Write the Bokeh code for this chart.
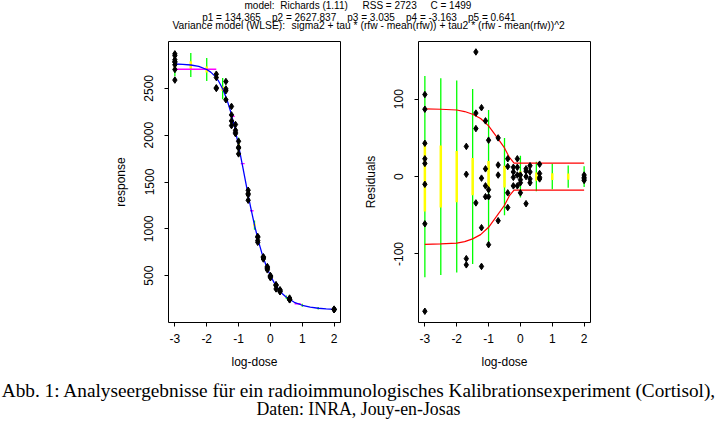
from bokeh.plotting import figure
from bokeh.models import Range1d, FixedTicker
from bokeh.layouts import column, row
from bokeh.core.properties import value
from bokeh.embed import file_html
from bokeh.resources import INLINE

# ---------------- data ----------------
log_dose = [-3.0, -1.699, -1.398, -1.222, -1.097, -1.0, -0.699, -0.398,
            -0.222, -0.097, 0.0, 0.176, 0.301, 0.602, 2.0]
response = [
    [2868, 2849, 2805, 2785, 2779, 2752, 2701, 2588],
    [2651, 2615, 2506, 2498],
    [2573, 2494, 2474, 2378],
    [2307, 2216, 2152, 2102],
    [2114, 2052, 2030, 2016],
    [1935, 1871, 1862, 1800],
    [1412, 1377, 1364, 1305],
    [919, 909, 875, 856],
    [702, 696, 689, 678],
    [597, 586, 576, 562],
    [501, 495, 478, 491],
    [400, 393, 358, 403],
    [350, 342, 333, 328],
    [261, 249, 244, 242],
    [143, 140, 138, 136],
]
residual = [
    [106, 87, 43, 23, 17, -10, -61, -174],
    [39, 3, -106, -114],
    [161, 82, 62, -34],
    [89, -2, -66, -116],
    [72, 10, -12, -26],
    [47, -17, -26, -88],
    [50, 15, 2, -57],
    [23, 13, -21, -40],
    [12, 6, -1, -12],
    [23, 12, 2, -12],
    [2, -4, -21, -8],
    [7, 0, -35, 10],
    [14, 6, -3, -8],
    [16, 4, -1, -3],
    [2, -1, -3, -5],
]
# fitted curve (blue)
curve_x = [-3, -2.75, -2.5, -2.25, -2, -1.875, -1.75, -1.625, -1.5, -1.375, -1.25,
           -1.125, -1, -0.875, -0.75, -0.625, -0.5, -0.375, -0.25, -0.125, 0,
           0.125, 0.25, 0.375, 0.5, 0.75, 1, 1.25, 1.5, 1.75, 2]
curve_y = [2760, 2756, 2749, 2734, 2701, 2673, 2633, 2576, 2496, 2390, 2253,
           2085, 1888, 1672, 1451, 1236, 1039, 866, 719, 597, 499,
           420, 358, 308, 270, 216, 184, 164, 152, 145, 141]
# interval bars on a grid of log-doses
grid_x = [-3, -2.5, -2, -1.5, -1, -0.5, 0, 0.5, 1, 1.5, 2]
grid_fit = [2760, 2749, 2701, 2496, 1888, 1039, 499, 270, 184, 152, 141]
green_half = [130, 127, 124, 113, 86, 50, 27, 19, 16.5, 14.4, 13.3]
yellow_half = [45, 40, 33, 24, 20, 14, 7, 5.3, 4.3, 4, 3.5]
# magenta marks (left panel)
mag_y = [2704, 2200, 1696, 1193, 200]
mag_x0 = [-3.0, -1.27, -0.93, -0.64, 0.76]
mag_x1 = [-1.70, -1.12, -0.81, -0.53, 0.95]
# red band (right panel)
band_x = [-3, -2.5, -2, -1.75, -1.5, -1.25, -1, -0.75, -0.5, -0.35, -0.2, 2]
band_s = [87.5, 87, 86, 84, 80.5, 75, 65.5, 51.5, 37, 25, 17.5, 17.5]

x_ticks = [-3, -2, -1, 0, 1, 2]
y_ticks_left = [500, 1000, 1500, 2000, 2500]
y_ticks_right = [-100, 0, 100]

title_line1 = ["model:", "Richards (1.11)", "RSS = 2723", "C = 1499"]
title_line2 = ["p1 = 134.365", "p2 = 2627.837", "p3 = 3.035", "p4 = -3.163", "p5 = 0.641"]
title_line3 = ["Variance model (WLSE):",
               "sigma2 + tau * (rfw - mean(rfw)) + tau2 * (rfw - mean(rfw))^2"]
caption1 = "Abb. 1: Analyseergebnisse für ein radioimmunologisches Kalibrationsexperiment (Cortisol),"
caption2 = "Daten: INRA, Jouy-en-Josas"

SANS = "Liberation Sans"
SERIF = "Liberation Serif"

xs = [d for d, rr in zip(log_dose, response) for _ in rr]
ys = [v for rr in response for v in rr]
rs = [v for rr in residual for v in rr]


def text_fig(h, y_top):
    return figure(width=717, height=h, x_range=Range1d(0, 717), y_range=Range1d(y_top + h, y_top),
                  toolbar_location=None, output_backend="svg", x_axis_type=None, y_axis_type=None,
                  min_border=0, outline_line_color=None)


# ---------------- title ----------------
tf = text_fig(40, 0)
tkw = dict(text_font=value(SANS), text_align="left", text_baseline="middle", text_color="black")
tf.text(x=[244, 279.7, 362, 430], y=[5] * 4, text=title_line1,
        text_font_size=value("10px"), **tkw)
tf.text(x=[201.7, 271.5, 346.8, 405.5, 467.5], y=[16.5] * 5, text=title_line2,
        text_font_size=value("10px"), **tkw)
tf.text(x=[172, 291], y=[24.5] * 2, text=title_line3,
        text_font_size=value("10.3px"), **tkw)


def style(p, yticks, ylabel):
    p.outline_line_color = "black"
    p.outline_line_width = 1
    p.xgrid.visible = False
    p.ygrid.visible = False
    p.xaxis.ticker = FixedTicker(ticks=x_ticks)
    p.yaxis.ticker = FixedTicker(ticks=yticks)
    p.xaxis.major_label_overrides = {t: str(t) for t in x_ticks}
    p.yaxis.major_label_overrides = {t: str(t) for t in yticks}
    p.xaxis.axis_label = "log-dose"
    p.yaxis.axis_label = ylabel
    for ax in (p.xaxis, p.yaxis):
        ax.axis_line_color = None
        ax.major_tick_out = 4
        ax.major_tick_in = 0
        ax.minor_tick_out = 0
        ax.minor_tick_in = 0
        ax.major_tick_line_color = "black"
        ax.major_label_text_font = SANS
        ax.major_label_text_font_size = "12px"
        ax.major_label_text_color = "black"
        ax.axis_label_text_font = SANS
        ax.axis_label_text_font_size = "12px"
        ax.axis_label_text_font_style = "normal"
        ax.axis_label_text_color = "black"
    p.xaxis.major_label_standoff = 7
    p.xaxis.axis_label_standoff = 9
    p.yaxis.major_label_orientation = "vertical"
    p.yaxis.major_label_standoff = 11
    p.yaxis.axis_label_standoff = 14


# ---------------- left panel ----------------
pl = figure(width=360, height=332, x_range=Range1d(-3.2, 2.2), y_range=Range1d(0, 3000),
            toolbar_location=None, output_backend="svg",
            min_border_left=168, min_border_right=20, min_border_top=1, min_border_bottom=50)
style(pl, y_ticks_left, "response")
pl.segment(x0=grid_x, x1=grid_x, y0=[f - g for f, g in zip(grid_fit, green_half)],
           y1=[f + g for f, g in zip(grid_fit, green_half)], line_color="#00FF00", line_width=1.3)
pl.segment(x0=grid_x, x1=grid_x, y0=[f - g for f, g in zip(grid_fit, yellow_half)],
           y1=[f + g for f, g in zip(grid_fit, yellow_half)], line_color="#FFFF00", line_width=2.5)
pl.segment(x0=mag_x0, x1=mag_x1, y0=mag_y, y1=mag_y, line_color="#FF00FF", line_width=1.3)
pl.line(curve_x, curve_y, line_color="#0000FF", line_width=1.3)
pl.scatter(xs, ys, marker="diamond", size=6.5, fill_color="black", line_color="black")

# ---------------- right panel ----------------
pr = figure(width=357, height=332, x_range=Range1d(-3.2, 2.2), y_range=Range1d(-188.5, 174.5),
            toolbar_location=None, output_backend="svg",
            min_border_left=58, min_border_right=127, min_border_top=1, min_border_bottom=50)
style(pr, y_ticks_right, "Residuals")
pr.segment(x0=grid_x, x1=grid_x, y0=[-g for g in green_half], y1=green_half,
           line_color="#00FF00", line_width=1.3)
pr.segment(x0=grid_x, x1=grid_x, y0=[-g for g in yellow_half], y1=yellow_half,
           line_color="#FFFF00", line_width=2.5)
pr.line(band_x, band_s, line_color="#FF0000", line_width=1.2)
pr.line(band_x, [-s for s in band_s], line_color="#FF0000", line_width=1.2)
pr.scatter(xs, rs, marker="diamond", size=6.5, fill_color="black", line_color="black")

# ---------------- caption ----------------
cf = text_fig(50, 372)
ckw = dict(text_font=value(SERIF), text_align="center", text_baseline="middle",
           text_color="black")
cf.text(x=[358.5], y=[390], text=[caption1], text_font_size=value("19.3px"), **ckw)
cf.text(x=[358], y=[408.5], text=[caption2], text_font_size=value("17.8px"), **ckw)

layout = column(tf, row(pl, pr), cf)
open("out.html", "w").write(file_html(layout, INLINE))
